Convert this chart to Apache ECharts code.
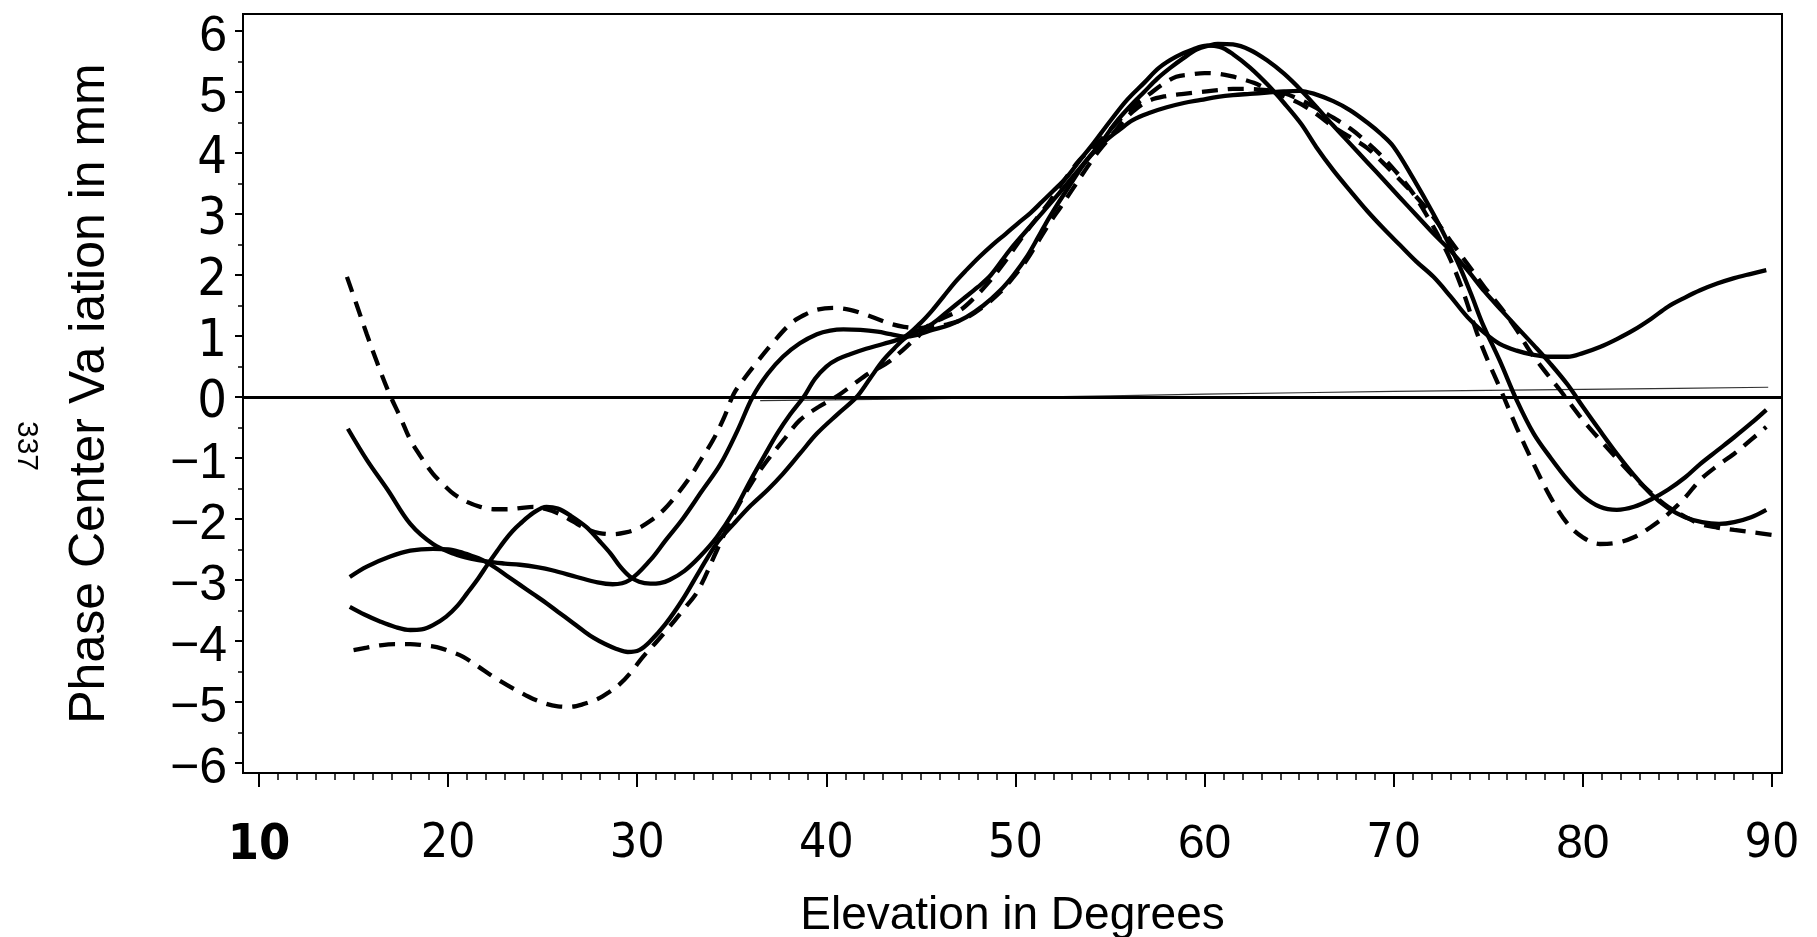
<!DOCTYPE html>
<html>
<head>
<meta charset="utf-8">
<title>Phase Center Variation vs Elevation</title>
<script src="https://cdn.jsdelivr.net/npm/echarts@6/dist/echarts.min.js"></script>
<style>
  html, body { margin: 0; padding: 0; background: #fff; }
  #chart { width: 1817px; height: 937px; }
</style>
</head>
<body>
<div id="chart"></div>
<script>
// Axis ticks
const elevationTicks = [10, 20, 30, 40, 50, 60, 70, 80, 90];
const elevationMinorTicks = [];
for (let d = 10; d <= 90; d++) if (d % 10 !== 0) elevationMinorTicks.push(d);
const pcvTicks = [-6, -5, -4, -3, -2, -1, 0, 1, 2, 3, 4, 5, 6];
const pcvMinorTicks = [-5.5, -4.5, -3.5, -2.5, -1.5, -0.5, 0.5, 1.5, 2.5, 3.5, 4.5, 5.5];

// Phase centre variation curves: [elevation in degrees, variation in mm]
const solid1 = [[14.7,-0.52],[15.7,-1.03],[16.8,-1.52],[18.0,-2.08],[19.2,-2.41],[20.3,-2.57],[21.2,-2.65],[22.1,-2.70],[23.0,-2.73],[23.8,-2.75],[24.7,-2.79],[25.5,-2.84],[26.8,-2.95],[27.9,-3.04],[28.7,-3.07],[29.6,-3.00],[30.7,-2.67],[31.5,-2.35],[32.4,-2.00],[33.4,-1.55],[34.4,-1.10],[35.3,-0.55],[36.1,0.00],[36.9,0.38],[37.7,0.66],[38.6,0.88],[39.5,1.03],[40.2,1.09],[40.9,1.11],[41.8,1.10],[42.7,1.07],[43.4,1.03],[44.1,0.99],[44.8,1.02],[45.6,1.10],[46.5,1.18],[47.4,1.31],[48.3,1.50],[49.2,1.75],[49.9,2.00],[50.6,2.30],[51.2,2.62],[51.8,2.95],[52.7,3.39],[53.8,3.89],[54.8,4.21],[55.5,4.38],[56.2,4.54],[57.1,4.66],[58.0,4.75],[58.9,4.82],[59.8,4.87],[60.7,4.92],[61.5,4.95],[62.4,4.97],[63.3,4.99],[64.2,5.01],[65.0,5.02],[65.8,4.97],[66.8,4.85],[67.7,4.70],[68.6,4.50],[69.3,4.32],[70.0,4.10],[71.0,3.60],[72.1,3.00],[72.8,2.58],[73.5,2.13],[74.1,1.68],[74.7,1.20],[75.6,0.60],[76.5,-0.05],[77.4,-0.60],[78.3,-1.00],[79.2,-1.36],[80.0,-1.62],[80.9,-1.80],[81.8,-1.85],[82.7,-1.80],[83.6,-1.68],[84.5,-1.52],[85.4,-1.32],[86.2,-1.10],[87.1,-0.88],[88.0,-0.66],[88.9,-0.43],[89.7,-0.21]];

const solid2 = [[14.8,-2.95],[15.7,-2.78],[16.9,-2.62],[18.0,-2.52],[19.2,-2.49],[20.0,-2.50],[20.6,-2.54],[21.2,-2.60],[21.8,-2.67],[22.5,-2.80],[23.1,-2.93],[23.8,-3.08],[24.5,-3.23],[25.2,-3.38],[25.8,-3.52],[26.5,-3.68],[27.1,-3.82],[27.7,-3.95],[28.3,-4.05],[28.9,-4.13],[29.5,-4.18],[30.1,-4.15],[30.7,-4.00],[31.5,-3.72],[32.4,-3.32],[33.3,-2.85],[34.2,-2.40],[35.1,-2.08],[36.0,-1.78],[36.9,-1.52],[37.7,-1.26],[38.6,-0.93],[39.5,-0.60],[40.6,-0.28],[41.6,0.00],[42.3,0.30],[43.0,0.60],[43.6,0.80],[44.1,0.95],[44.8,1.08],[45.6,1.20],[46.4,1.40],[47.2,1.60],[48.0,1.80],[48.7,2.00],[49.7,2.41],[50.9,2.84],[52.2,3.30],[53.0,3.60],[53.8,3.90],[54.6,4.20],[55.3,4.50],[56.1,4.78],[56.8,5.00],[57.5,5.22],[58.2,5.40],[58.9,5.56],[59.6,5.70],[60.2,5.76],[60.7,5.79],[61.5,5.78],[62.4,5.69],[63.3,5.52],[64.2,5.30],[65.1,5.03],[65.9,4.76],[66.8,4.45],[67.7,4.15],[68.6,3.85],[69.5,3.55],[70.3,3.28],[71.2,2.98],[72.1,2.68],[73.0,2.40],[73.9,2.08],[74.8,1.73],[75.7,1.42],[76.5,1.15],[77.4,0.85],[78.3,0.54],[79.2,0.20],[80.0,-0.16],[80.9,-0.55],[81.8,-0.93],[82.7,-1.28],[83.6,-1.59],[84.5,-1.82],[85.4,-1.97],[86.3,-2.05],[87.2,-2.08],[88.0,-2.05],[88.9,-1.97],[89.7,-1.85]];

const solid3 = [[14.8,-3.44],[15.6,-3.57],[16.4,-3.68],[17.2,-3.77],[18.0,-3.82],[18.6,-3.81],[19.2,-3.74],[19.9,-3.60],[20.5,-3.42],[21.0,-3.22],[21.6,-2.97],[22.1,-2.74],[22.6,-2.52],[23.0,-2.35],[23.4,-2.20],[23.8,-2.08],[24.5,-1.90],[25.2,-1.80],[25.8,-1.83],[26.5,-1.95],[27.3,-2.13],[28.0,-2.36],[28.6,-2.57],[29.1,-2.78],[29.6,-2.94],[30.1,-3.03],[30.7,-3.06],[31.2,-3.05],[31.7,-3.00],[32.5,-2.85],[33.3,-2.62],[34.2,-2.30],[35.1,-1.88],[36.0,-1.36],[36.8,-0.92],[37.4,-0.60],[38.1,-0.28],[38.8,0.00],[39.4,0.30],[40.0,0.50],[40.6,0.62],[41.25,0.70],[42.1,0.79],[43.0,0.87],[44.1,0.98],[45.0,1.22],[45.6,1.42],[46.2,1.65],[46.8,1.88],[47.4,2.08],[48.1,2.30],[48.8,2.50],[49.5,2.68],[50.1,2.84],[50.8,3.02],[51.4,3.20],[52.0,3.38],[52.7,3.60],[53.4,3.88],[54.1,4.15],[55.0,4.52],[55.9,4.87],[56.8,5.15],[57.6,5.40],[58.5,5.58],[59.4,5.70],[60.1,5.76],[60.8,5.74],[61.5,5.62],[62.4,5.40],[63.3,5.13],[64.2,4.82],[65.1,4.48],[65.9,4.10],[66.8,3.72],[67.7,3.38],[68.6,3.05],[69.5,2.75],[70.3,2.50],[71.2,2.22],[72.1,1.97],[73.0,1.65],[73.9,1.31],[74.8,1.05],[75.6,0.87],[76.5,0.76],[77.4,0.69],[78.3,0.66],[79.2,0.66],[80.0,0.72],[80.9,0.82],[81.8,0.95],[82.7,1.10],[83.6,1.28],[84.5,1.48],[85.4,1.63],[86.2,1.75],[87.1,1.86],[88.0,1.95],[88.9,2.02],[89.7,2.08]];

const dashed1 = [[14.65,1.97],[15.2,1.48],[15.7,1.03],[16.3,0.52],[16.9,0.05],[17.5,-0.35],[18.0,-0.70],[18.6,-1.00],[19.2,-1.26],[19.8,-1.45],[20.3,-1.59],[21.0,-1.72],[21.7,-1.80],[22.4,-1.84],[23.1,-1.84],[23.8,-1.82],[24.5,-1.80],[25.2,-1.84],[25.9,-1.92],[26.6,-2.04],[27.3,-2.16],[28.0,-2.23],[28.7,-2.25],[29.4,-2.22],[30.0,-2.16],[30.7,-2.03],[31.4,-1.85],[32.1,-1.60],[32.8,-1.31],[33.4,-1.01],[34.0,-0.71],[34.6,-0.33],[35.1,0.05],[35.7,0.32],[36.3,0.56],[37.2,0.90],[38.1,1.20],[38.8,1.34],[39.5,1.43],[40.4,1.46],[41.25,1.43],[42.0,1.36],[42.7,1.28],[43.4,1.20],[44.1,1.15],[44.8,1.13],[45.6,1.15],[46.5,1.20],[47.4,1.30],[48.3,1.48],[49.2,1.72],[49.9,1.97],[50.6,2.25],[51.2,2.55],[51.8,2.85],[52.4,3.12],[53.0,3.40],[53.6,3.68],[54.2,3.95],[54.9,4.22],[55.5,4.45],[56.2,4.68],[57.0,4.85],[57.9,4.93],[58.9,4.97],[59.8,5.00],[60.7,5.03],[61.5,5.05],[62.4,5.05],[63.3,5.03],[64.2,4.98],[65.0,4.88],[65.9,4.74],[66.8,4.58],[67.7,4.40],[68.5,4.20],[69.2,4.00],[70.1,3.70],[71.0,3.35],[71.8,2.95],[72.4,2.62],[73.0,2.25],[73.7,1.70],[74.4,1.05],[75.0,0.58],[75.6,0.16],[76.5,-0.50],[77.4,-1.10],[78.3,-1.65],[79.2,-2.08],[80.0,-2.30],[80.9,-2.41],[81.8,-2.39],[82.7,-2.30],[83.6,-2.13],[84.5,-1.92],[85.4,-1.65],[86.2,-1.36],[87.1,-1.13],[88.0,-0.93],[88.9,-0.70],[89.7,-0.49]];

const dashed2 = [[15.0,-4.15],[15.7,-4.11],[16.4,-4.07],[17.2,-4.05],[18.0,-4.05],[18.7,-4.07],[19.4,-4.10],[20.1,-4.17],[20.8,-4.26],[21.6,-4.42],[22.4,-4.59],[23.1,-4.72],[23.8,-4.84],[24.5,-4.95],[25.2,-5.03],[25.8,-5.07],[26.4,-5.08],[27.1,-5.04],[27.9,-4.95],[28.5,-4.84],[29.1,-4.70],[29.7,-4.50],[30.3,-4.26],[31.0,-4.02],[31.7,-3.77],[32.4,-3.50],[33.2,-3.18],[34.2,-2.52],[35.1,-1.92],[36.0,-1.43],[36.9,-1.03],[37.8,-0.68],[38.6,-0.38],[39.6,-0.16],[40.6,0.02],[41.4,0.20],[42.2,0.38],[42.8,0.48],[43.4,0.60],[43.9,0.73],[44.4,0.87],[44.9,1.01],[45.3,1.15],[46.2,1.30],[47.1,1.43],[47.8,1.62],[48.5,1.85],[49.3,2.16],[50.1,2.51],[50.7,2.76],[51.3,3.00],[51.8,3.20],[52.2,3.39],[52.8,3.65],[53.4,3.89],[54.0,4.06],[54.5,4.21],[55.0,4.38],[55.5,4.54],[56.3,4.78],[57.1,4.97],[57.8,5.13],[58.5,5.25],[59.3,5.29],[60.0,5.31],[60.7,5.30],[61.4,5.26],[62.0,5.21],[62.6,5.15],[63.3,5.05],[64.2,4.93],[65.1,4.80],[66.0,4.62],[66.8,4.43],[67.7,4.26],[68.6,4.08],[69.4,3.85],[70.2,3.60],[71.2,3.28],[72.1,2.95],[73.0,2.56],[73.9,2.18],[74.8,1.80],[75.7,1.45],[76.5,1.10],[77.2,0.75],[78.0,0.42],[78.8,0.11],[79.8,-0.30],[80.9,-0.70],[81.8,-1.01],[82.7,-1.31],[83.6,-1.57],[84.5,-1.80],[85.4,-1.96],[86.2,-2.08],[87.1,-2.14],[88.0,-2.18],[89.0,-2.22],[90.0,-2.26]];

// Faint near-zero trace running alongside the zero line
const faintTrace = [[36.5,-0.06],[45,-0.03],[55,0.02],[65,0.07],[75,0.11],[85,0.14],[89.8,0.16]];

const NARROW = '"Liberation Sans Narrow", "Arial Narrow", "DejaVu Sans Condensed", "Liberation Sans", sans-serif';
const REGULAR = '"Liberation Sans", Arial, sans-serif';

const xLabelStyle = { 10: 'b', 60: 'r', 80: 'r' };

function curve(data, dashed) {
  return {
    type: 'line',
    data: data,
    smooth: 0.35,
    symbol: 'none',
    silent: true,
    lineStyle: {
      color: '#000',
      width: 4.3,
      type: dashed ? [16, 10] : 'solid',
      cap: 'butt'
    },
    z: 3
  };
}

const chart = echarts.init(document.getElementById('chart'), null, { renderer: 'canvas' });

chart.setOption({
  animation: false,
  backgroundColor: '#fff',
  grid: {
    left: 243, right: 35, top: 14, bottom: 164,
    show: true, borderColor: '#000', borderWidth: 2,
    containLabel: false, outerBoundsMode: 'none'
  },
  xAxis: [
    {
      type: 'value', min: 9.154, max: 90.53, position: 'bottom',
      axisLine: { show: false, onZero: false },
      splitLine: { show: false },
      axisTick: { show: true, customValues: elevationTicks, length: 14, lineStyle: { color: '#000', width: 2 } },
      axisLabel: {
        show: true, customValues: elevationTicks, margin: 48,
        formatter: v => '{' + (xLabelStyle[v] || 'n') + '|' + v + '}',
        rich: {
          n: { fontFamily: NARROW, fontSize: 48, color: '#000' },
          b: { fontFamily: NARROW, fontSize: 50, fontWeight: 'bold', color: '#000' },
          r: { fontFamily: REGULAR, fontSize: 48, color: '#000' }
        }
      },
      name: 'Elevation in Degrees',
      nameLocation: 'middle', nameGap: 120,
      nameTextStyle: { fontFamily: REGULAR, fontSize: 46, color: '#000' }
    },
    {
      type: 'value', min: 9.154, max: 90.53, position: 'bottom',
      axisLine: { show: false, onZero: false },
      splitLine: { show: false },
      axisTick: { show: true, customValues: elevationMinorTicks, length: 7, lineStyle: { color: '#000', width: 1.5 } },
      axisLabel: { show: false }
    }
  ],
  yAxis: [
    {
      type: 'value', min: -6.164, max: 6.279, position: 'left',
      axisLine: { show: false, onZero: false },
      splitLine: { show: false },
      axisTick: { show: true, customValues: pcvTicks, length: 8, lineStyle: { color: '#000', width: 2 } },
      axisLabel: {
        show: true, customValues: pcvTicks, margin: 16, padding: [12, 0, 0, 0],
        formatter: v => v < 0 ? '{r|\u2212' + (-v) + '}' : (v >= 5 ? '{r|' + v + '}' : '{n|' + v + '}'),
        rich: {
          n: { fontFamily: NARROW, fontSize: 52, color: '#000' },
          r: { fontFamily: REGULAR, fontSize: 50, color: '#000' }
        }
      },
      name: 'Phase Center Va iation in mm',
      nameLocation: 'middle', nameGap: 128,
      nameTextStyle: { fontFamily: REGULAR, fontSize: 50, color: '#000' }
    },
    {
      type: 'value', min: -6.164, max: 6.279, position: 'left',
      axisLine: { show: false, onZero: false },
      splitLine: { show: false },
      axisTick: { show: true, customValues: pcvMinorTicks, length: 5, lineStyle: { color: '#000', width: 1.5 } },
      axisLabel: { show: false }
    }
  ],
  graphic: [
    {
      type: 'text', x: 26, y: 446, rotation: -Math.PI / 2,
      style: { text: '337', fontFamily: REGULAR, fontSize: 30, fill: '#000', textAlign: 'center', textVerticalAlign: 'middle' }
    }
  ],
  series: [
    {
      type: 'line',
      data: faintTrace,
      smooth: true,
      symbol: 'none',
      silent: true,
      lineStyle: { color: '#333', width: 1.2 },
      z: 2,
      markLine: {
        silent: true,
        symbol: 'none',
        label: { show: false },
        lineStyle: { color: '#000', width: 3, type: 'solid' },
        data: [{ yAxis: 0 }]
      }
    },
    curve(solid1, false),
    curve(solid2, false),
    curve(solid3, false),
    curve(dashed1, true),
    curve(dashed2, true)
  ]
});
</script>
</body>
</html>
